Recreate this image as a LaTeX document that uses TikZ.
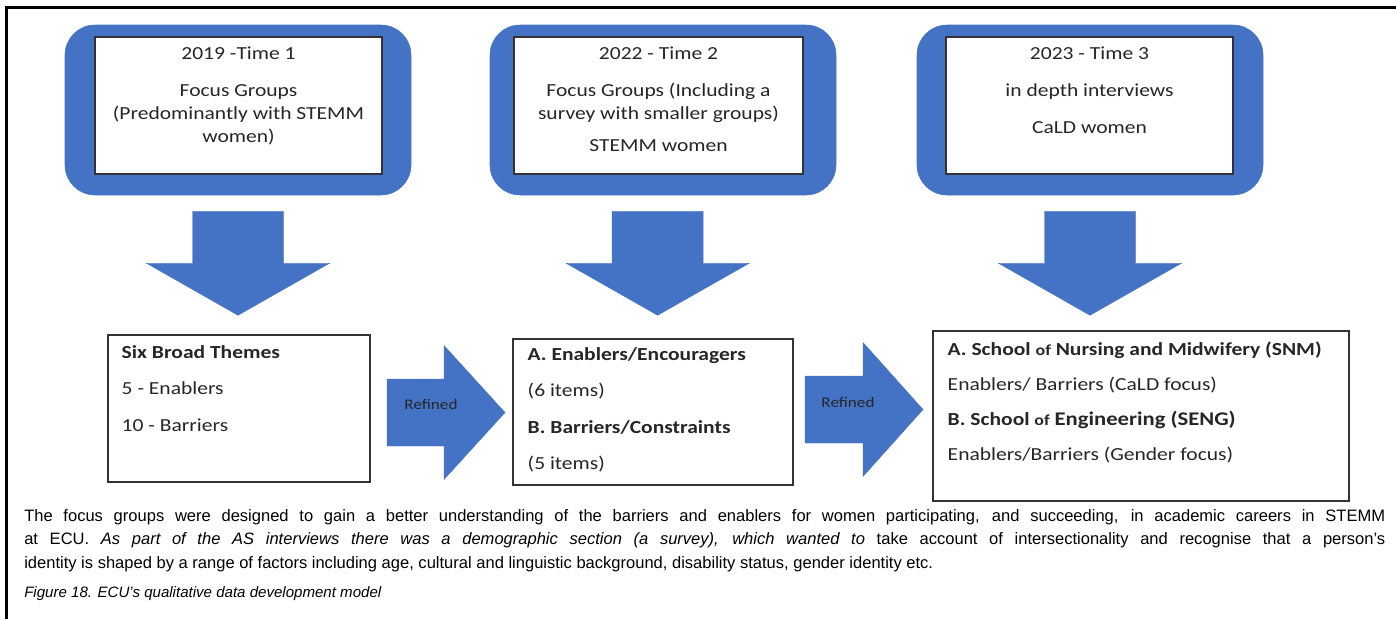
\documentclass[tikz,border=0pt]{standalone}
\usepackage{fontspec}
\usepackage{xcolor}
\usepackage{tikz}
\usetikzlibrary{calc}
\usetikzlibrary{positioning}
\setmainfont{Liberation Sans}
\newfontfamily\calib[FakeStretch=1.17]{Carlito}
\definecolor{ecublue}{HTML}{4472C4}

\begin{document}
\begin{tikzpicture}[x=0.75pt,y=-0.75pt,
    outer box/.style={draw=ecublue,fill=ecublue,rounded corners=22.5pt,minimum width=259.5pt,minimum height=127.5pt},
    inner box/.style={draw=black!80,fill=white,line width=0.9pt,minimum width=215.25pt,minimum height=102.75pt},
    top text/.style={font=\calib\fontsize{13.8}{17.3}\selectfont,align=center,inner sep=0pt,text=black!85},
    theme box/.style={draw=black!80,line width=0.8pt},
    theme text/.style={font=\calib\fontsize{13.8}{27.4}\selectfont,align=left,inner sep=0pt,anchor=north west,text=black!85},
    refined/.style={font=\calib\fontsize{11}{14}\selectfont,inner sep=0pt,text=black!85},
    block/.style={fill=ecublue,draw=ecublue,line width=0.3pt}]
\useasboundingbox (0,0) rectangle (1396,619);
%frame
  \draw[line width=1.75pt] (6.5,619) -- (6.5,7.5) -- (1396,7.5);
%time boxes
  \node[outer box] (outerA) at (238,110) {};
  \node[outer box] (outerB) at (663,110) {};
  \node[outer box] (outerC) at (1090,110) {};
  \node[inner box] (timeA) at (238.5,105.5) {};
  \node[inner box,minimum width=216.75pt] (timeB) at (658.5,105.5) {};
  \node[inner box] (timeC) at (1089.5,105.5) {};
  \node[top text] (timeAtext) [below=7.5pt of timeA.north] {2019 -Time 1\\[10.5pt] Focus Groups\\ (Predominantly with STEMM\\ women)};
  \node[top text] (timeBtext) [below=7.5pt of timeB.north] {2022 - Time 2\\[10.5pt] Focus Groups (Including a\\ survey with smaller groups)\\[6.4pt] STEMM women};
  \node[top text] (timeCtext) [below=7.5pt of timeC.north] {2023 - Time 3\\[10.5pt] in depth interviews\\[10.5pt] CaLD women};
%down arrows
  \coordinate[below=12pt of outerA.south] (downA);
  \coordinate[below=12pt of outerB.south,xshift=-4pt] (downB);
  \coordinate[below=12pt of outerC.south] (downC);
  \fill[block] ($(downA)+(-45.5,0)$) -- ++(91,0) -- ++(0,52) -- ++(46,0) -- ++(-91.5,52) -- ++(-91.5,-52) -- ++(46,0) -- cycle;
  \fill[block] ($(downB)+(-45.5,0)$) -- ++(91,0) -- ++(0,52) -- ++(46,0) -- ++(-91.5,52) -- ++(-91.5,-52) -- ++(46,0) -- cycle;
  \fill[block] ($(downC)+(-45.5,0)$) -- ++(91,0) -- ++(0,52) -- ++(46,0) -- ++(-91.5,52) -- ++(-91.5,-52) -- ++(46,0) -- cycle;
%theme boxes
  \node[theme box,minimum width=196.5pt,minimum height=110.25pt] (themeA) at (239,408.5) {};
  \node[theme box,minimum width=210pt,minimum height=109.5pt] (themeB) at (653,412) {};
  \node[theme box,minimum width=312pt,minimum height=127.5pt] (themeC) at (1141,416) {};
  \node[theme text] (themeAtext) at ($(themeA.north west)+(14,10.5)$) {\textbf{Six Broad Themes}\\ 5 - Enablers\\ 10 - Barriers};
  \node[theme text] (themeBtext) at ($(themeB.north west)+(15,8.5)$) {\textbf{A. Enablers/Encouragers}\\ (6 items)\\ \textbf{B. Barriers/Constraints}\\ (5 items)};
  \node[theme text,font=\calib\fontsize{13.8}{26.25}\selectfont] (themeCtext) at ($(themeC.north west)+(15,11.5)$) {\textbf{A. School {\fontsize{11.5}{13}\selectfont of} Nursing and Midwifery (SNM)}\\ Enablers/ Barriers (CaLD focus)\\ \textbf{B. School {\fontsize{11.5}{13}\selectfont of} {\fontsize{14.5}{17}\selectfont Engineering (SENG)}}\\ Enablers/Barriers (Gender focus)};
%refined arrows
  \coordinate (rightA) at (387,412.5);
  \coordinate (rightB) at (805,409.5);
  \fill[block] ($(rightA)+(0,-33.5)$) -- ++(57,0) -- ++(0,-33.5) -- ++(61,67) -- ++(-61,67) -- ++(0,-33.5) -- ++(-57,0) -- cycle;
  \fill[block] ($(rightB)+(0,-33.5)$) -- ++(58,0) -- ++(0,-33.5) -- ++(60,67) -- ++(-60,67) -- ++(0,-33.5) -- ++(-58,0) -- cycle;
  \node[refined] (refA) at (431,404) {Refined};
  \node[refined] (refB) at (848,402) {Refined};
%caption
  \node[font=\fontsize{12.4}{17.6}\selectfont,text width=1020.75pt,align=justify,inner sep=0pt,anchor=north west] (note) at (24,509)
    {The focus groups were designed to gain a better understanding of the barriers and enablers for women participating, and succeeding, in academic careers in STEMM\linebreak at ECU. \textit{As part of the AS interviews there was a demographic section (a survey), which wanted to} take account of intersectionality and recognise that a person’s\linebreak identity is shaped by a range of factors including age, cultural and linguistic background, disability status, gender identity etc.};
  \node[font=\fontsize{11.3}{15}\selectfont\itshape,inner sep=0pt,anchor=base west] (figcap) at (24,597) {Figure 18. ECU’s qualitative data development model};
\end{tikzpicture}
\end{document}
